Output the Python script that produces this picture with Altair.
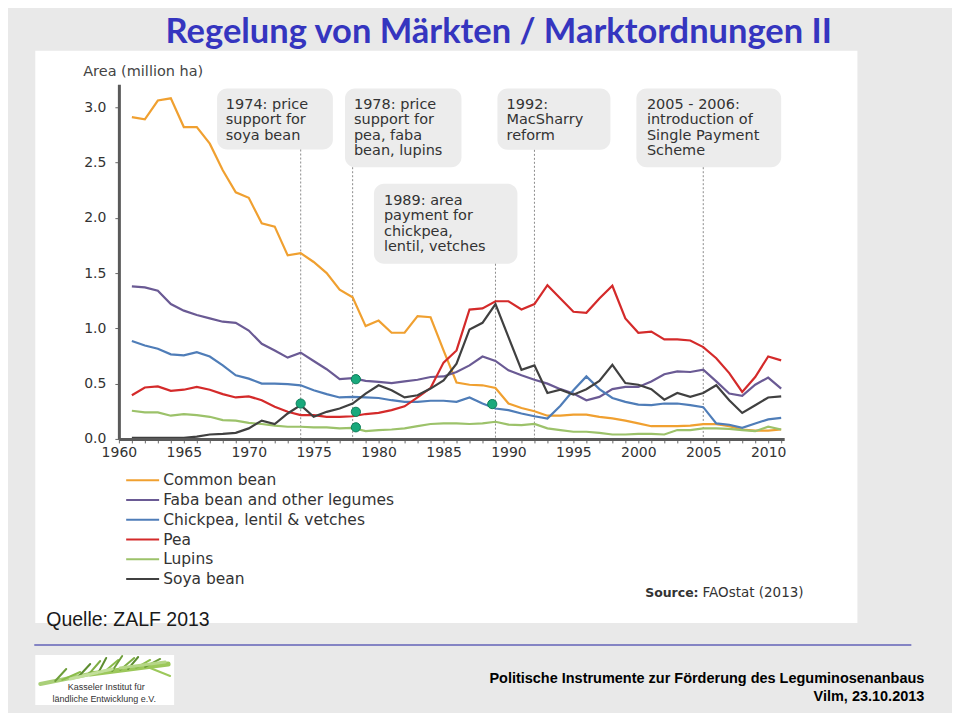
import altair as alt
import pandas as pd

# ---------------- data ----------------
YEARS = list(range(1961, 2012))
SERIES = ["Common bean", "Faba bean and other legumes", "Chickpea, lentil & vetches",
          "Pea", "Lupins", "Soya bean"]
COLORS = ["#f0a030", "#6a5a94", "#4f7db8", "#d42a2a", "#9cc26a", "#404040"]

common_bean = [2.91, 2.89, 3.06, 3.08, 2.82, 2.82, 2.67, 2.43, 2.23, 2.18,
               1.95, 1.92, 1.66, 1.68, 1.60, 1.50, 1.35, 1.28, 1.02, 1.07,
               0.96, 0.96, 1.11, 1.10, 0.80, 0.51, 0.49, 0.485, 0.46, 0.32,
               0.28, 0.25, 0.21, 0.21, 0.22, 0.22, 0.20, 0.185, 0.165, 0.14,
               0.115, 0.115, 0.115, 0.12, 0.133, 0.133, 0.115, 0.085, 0.075, 0.075, 0.085]
faba = [1.38, 1.37, 1.34, 1.22, 1.16, 1.12, 1.09, 1.06, 1.05, 0.98,
        0.86, 0.80, 0.735, 0.78, 0.705, 0.63, 0.54, 0.55, 0.525, 0.515,
        0.505, 0.52, 0.535, 0.56, 0.565, 0.605, 0.665, 0.745, 0.705, 0.62,
        0.575, 0.535, 0.50, 0.45, 0.41, 0.35, 0.38, 0.45, 0.47, 0.47,
        0.52, 0.585, 0.61, 0.605, 0.627, 0.52, 0.41, 0.39, 0.49, 0.555, 0.455]
chickpea = [0.885, 0.845, 0.815, 0.765, 0.755, 0.785, 0.745, 0.665, 0.575, 0.545,
            0.50, 0.50, 0.495, 0.485, 0.44, 0.405, 0.375, 0.38, 0.375, 0.37,
            0.35, 0.335, 0.335, 0.345, 0.345, 0.335, 0.375, 0.32, 0.275, 0.26,
            0.23, 0.205, 0.185, 0.30, 0.44, 0.565, 0.45, 0.37, 0.335, 0.31,
            0.305, 0.32, 0.32, 0.305, 0.287, 0.14, 0.128, 0.10, 0.14, 0.177, 0.19]
pea = [0.395, 0.465, 0.475, 0.435, 0.445, 0.47, 0.445, 0.405, 0.375, 0.385,
       0.35, 0.29, 0.245, 0.215, 0.215, 0.20, 0.20, 0.205, 0.225, 0.235,
       0.26, 0.295, 0.375, 0.46, 0.69, 0.80, 1.17, 1.18, 1.245, 1.245,
       1.17, 1.22, 1.39, 1.27, 1.15, 1.14, 1.27, 1.385, 1.09, 0.96,
       0.97, 0.90, 0.90, 0.89, 0.83, 0.73, 0.595, 0.425, 0.56, 0.745, 0.71]
lupins = [0.255, 0.24, 0.24, 0.21, 0.225, 0.215, 0.20, 0.17, 0.165, 0.145,
          0.135, 0.12, 0.11, 0.11, 0.105, 0.105, 0.095, 0.10, 0.07, 0.08,
          0.085, 0.095, 0.115, 0.135, 0.14, 0.14, 0.135, 0.14, 0.155, 0.13,
          0.125, 0.135, 0.095, 0.08, 0.065, 0.065, 0.055, 0.04, 0.04, 0.045,
          0.045, 0.04, 0.08, 0.08, 0.095, 0.095, 0.09, 0.08, 0.07, 0.11, 0.085]
soya = [0.01, 0.01, 0.01, 0.01, 0.01, 0.02, 0.04, 0.045, 0.055, 0.095,
        0.165, 0.135, 0.23, 0.305, 0.20, 0.245, 0.275, 0.32, 0.41, 0.485,
        0.44, 0.375, 0.395, 0.455, 0.53, 0.68, 0.99, 1.05, 1.22, 0.92,
        0.625, 0.665, 0.415, 0.445, 0.40, 0.45, 0.525, 0.67, 0.505, 0.49,
        0.45, 0.355, 0.415, 0.38, 0.415, 0.485, 0.35, 0.235, 0.305, 0.375, 0.385]

SERIES_VALUES = [common_bean, faba, chickpea, pea, lupins, soya]

# policy annotations
ANN_YEAR = [1974, 1978, 1989, 1992, 2005]
ANN_TEXT = ["1974: price\nsupport for\nsoya bean",
            "1978: price\nsupport for\npea, faba\nbean, lupins",
            "1989: area\npayment for\nchickpea,\nlentil, vetches",
            "1992:\nMacSharry\nreform",
            "2005 - 2006:\nintroduction of\nSingle Payment\nScheme"]
BOX_X1 = [1967.56, 1977.41, 1979.64, 1989.15, 1999.85]
BOX_X2 = [1976.48, 1986.38, 1990.69, 1997.85, 2011.0]
BOX_TOP = [3.168, 3.168, 2.307, 3.168, 3.168]
BOX_BOTTOM = [2.617, 2.457, 1.584, 2.614, 2.457]
TEXT_X = [1968.23, 1978.10, 1980.41, 1989.85, 2000.66]
TEXT_TOP = [3.08, 3.08, 2.212, 3.08, 3.08]

# highlighted points
DOT_YEAR = [1974, 1978.25, 1978.25, 1978.25, 1988.75]
DOT_VALUE = [0.32, 0.54, 0.245, 0.105, 0.315]

# ---------------- frames ----------------
rows = []
for name, vals in zip(SERIES, SERIES_VALUES):
    for y, v in zip(YEARS, vals):
        rows.append({"year": y, "value": v, "series": name})
lines_df = pd.DataFrame(rows)
ann_df = pd.DataFrame({"year": ANN_YEAR, "text": ANN_TEXT, "x1": BOX_X1, "x2": BOX_X2,
                       "top": BOX_TOP, "bottom": BOX_BOTTOM, "tx": TEXT_X, "ty": TEXT_TOP,
                       "zero": [0] * len(ANN_YEAR)})
dots_df = pd.DataFrame({"year": DOT_YEAR, "value": DOT_VALUE})
one = pd.DataFrame({"k": [0]})

# ---------------- layout ----------------
X0, Y0 = 118.7, 83.7          # page position of plot origin
PXY = 13.0                    # px per year
PXV = 110.7                   # px per million ha
W = 666
H = 355
XMAX = 1960 + W / PXY
YMAX = H / PXV

def sx(x):
    return x - X0

def sy(y):
    return y - Y0

xs = alt.Scale(domain=[1960, XMAX], nice=False, zero=False)
ys = alt.Scale(domain=[0, YMAX], nice=False, zero=False)

AX_FONT = "DejaVu Sans"
SANS = "Liberation Sans"

x_axis = alt.Axis(values=list(range(1960, 2012)), format="d",
                  labelExpr="datum.value % 5 == 0 ? datum.label : ''",
                  title=None, grid=False, tickSize=4, tickColor="#666666", tickWidth=1,
                  domainColor="#5a5a5a", domainWidth=3, labelFont=AX_FONT, labelFontSize=14,
                  labelColor="#333333", labelPadding=3, labelFlush=False, labelOverlap=False,
                  labelBound=False, zindex=1)
y_axis = alt.Axis(values=[0, 0.5, 1.0, 1.5, 2.0, 2.5, 3.0], format=".1f", title=None,
                  grid=False, tickSize=4, tickColor="#666666", domainColor="#5a5a5a",
                  domainWidth=3, labelFont=AX_FONT, labelFontSize=14, labelColor="#333333",
                  labelPadding=9, labelOverlap=False, zindex=1)


def X(field):
    return alt.X(field, scale=xs, axis=x_axis)


def Y(field):
    return alt.Y(field, scale=ys, axis=y_axis)


def rect(x1, x2, y1, y2, fill, **kw):
    return alt.Chart(one).mark_rect(fill=fill, **kw).encode(
        x=alt.value(sx(x1)), x2=alt.value(sx(x2)), y=alt.value(sy(y1)), y2=alt.value(sy(y2)))


def text(s, x, y, **kw):
    return alt.Chart(one).mark_text(text=s, **kw).encode(x=alt.value(sx(x)), y=alt.value(sy(y)))


def seg(x1, y1, x2, y2, color, w):
    return alt.Chart(one).mark_rule(color=color, strokeWidth=w, strokeCap="round").encode(
        x=alt.value(sx(x1)), y=alt.value(sy(y1)), x2=alt.value(sx(x2)), y2=alt.value(sy(y2)))


bg = rect(8, 952, 8, 712, "#e9e9e9")
panel = rect(35, 858, 50, 623, "#ffffff")
logo_box = rect(35, 174, 655, 705, "#ffffff")
sep_line = alt.Chart(one).mark_rule(color="#8484c4", strokeWidth=2).encode(
    x=alt.value(sx(34)), x2=alt.value(sx(912)), y=alt.value(sy(645)))

grass = [
    seg(40, 684, 95, 673, "#a9cf78", 4), seg(90, 674, 168, 664, "#9cc85a", 5),
    seg(55, 681, 66, 669, "#6e9e3a", 2), seg(62, 680, 80, 672, "#8bbd4a", 2),
    seg(78, 677, 90, 664, "#5d8d30", 2), seg(88, 675, 100, 661, "#7fae45", 2),
    seg(98, 673, 106, 658, "#5d8d30", 2), seg(104, 672, 118, 660, "#8bbd4a", 2),
    seg(112, 671, 122, 656, "#6e9e3a", 2), seg(120, 670, 134, 658, "#7fae45", 2),
    seg(128, 669, 138, 657, "#5d8d30", 2), seg(136, 668, 150, 660, "#8bbd4a", 2),
    seg(145, 667, 160, 659, "#6e9e3a", 2), seg(150, 668, 170, 676, "#9cc85a", 2),
    seg(70, 679, 112, 669, "#c2df9a", 3), seg(120, 668, 165, 662, "#b5d686", 3),
]

title = text("Regelung von Märkten / Marktordnungen II", 499, 42.5, align="center",
             baseline="alphabetic", font="Lato", fontWeight="bold", fontSize=34.5,
             color="#3535bf")
area_lbl = text("Area (million ha)", 83, 71, align="left", baseline="middle",
                font=AX_FONT, fontSize=14.5, color="#444444")
src1 = text("Source:", 699, 593, align="right", baseline="middle", font=AX_FONT,
            fontSize=12.5, fontWeight="bold", color="#333333")
src2 = text("FAOstat (2013)", 703, 593, align="left", baseline="middle", font=AX_FONT,
            fontSize=13.5, color="#333333")
quelle = text("Quelle: ZALF 2013", 46, 620, align="left", baseline="middle",
              font=SANS, fontSize=19.5, color="#1a1a1a")
foot1 = text("Politische Instrumente zur Förderung des Leguminosenanbaus", 925, 679,
             align="right", baseline="middle", font=SANS, fontWeight="bold",
             fontSize=14.5, color="#000000")
foot2 = text("Vilm, 23.10.2013", 925, 697, align="right", baseline="middle",
             font=SANS, fontWeight="bold", fontSize=14.5, color="#000000")
logo1 = text("Kasseler Institut für", 106, 687, align="center", baseline="middle",
             font=SANS, fontSize=9, color="#333333")
logo2 = text("ländliche Entwicklung e.V.", 104, 699, align="center", baseline="middle",
             font=SANS, fontSize=9, color="#333333")

boxes = alt.Chart(ann_df).mark_rect(fill="#ececec", cornerRadius=10).encode(
    x=X("x1:Q"), x2="x2:Q", y=Y("top:Q"), y2="bottom:Q")
box_text = alt.Chart(ann_df).mark_text(align="left", baseline="top", lineBreak="\n",
                                       font=AX_FONT, fontSize=14.5, lineHeight=15.2,
                                       color="#333333").encode(
    x=X("tx:Q"), y=Y("ty:Q"), text="text:N")
vrules = alt.Chart(ann_df).mark_rule(color="#8c8c8c", strokeWidth=1, strokeDash=[2, 2]).encode(
    x=X("year:Q"), y=Y("bottom:Q"), y2="zero:Q")

lines = alt.Chart(lines_df).mark_line(strokeWidth=2.2).encode(
    x=X("year:Q"),
    y=Y("value:Q"),
    color=alt.Color("series:N", scale=alt.Scale(domain=SERIES, range=COLORS),
                    sort=SERIES,
                    legend=alt.Legend(orient="none", legendX=sx(125), legendY=sy(480) - 7.5,
                                      title=None, symbolType="stroke", symbolSize=1089,
                                      symbolStrokeWidth=2, labelFont=AX_FONT, labelFontSize=15.5,
                                      labelColor="#333333", labelOffset=3, rowPadding=3.8,
                                      labelLimit=0, clipHeight=15, padding=0,
                                      direction="vertical")),
)

dots = alt.Chart(dots_df).mark_circle(size=85, color="#19a97c", opacity=1,
                                      stroke="#0e7d5a", strokeWidth=1).encode(
    x=X("year:Q"), y=Y("value:Q"))

chart = alt.layer(
    bg, panel, logo_box, sep_line, *grass, title, area_lbl, src1, src2, quelle,
    foot1, foot2, logo1, logo2, boxes, box_text, vrules, lines, dots
).properties(width=W, height=H, padding=0, background="#e9e9e9").configure_view(stroke=None)

chart.save("out.html", embed_options={"renderer": "svg", "actions": False})
